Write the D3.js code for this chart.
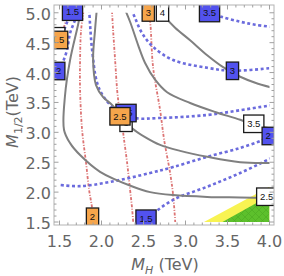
<!DOCTYPE html>
<html><head><meta charset="utf-8">
<script src="https://cdn.jsdelivr.net/npm/d3@7"></script>
<style>body{margin:0;background:#fff;overflow:hidden}</style>
</head><body>
<script>
// ---- data (M_H, M_1/2 in TeV) ----
const xTicks = [1.5, 2.0, 2.5, 3.0, 3.5, 4.0];
const yTicks = [1.5, 2.0, 2.5, 3.0, 3.5, 4.0, 4.5, 5.0];

// gray solid contours
const gray25 = [[1.76,5.08],[1.721,4.80],[1.626,4.21],[1.566,3.62],[1.554,3.04],[1.626,2.82],[1.745,2.62],[1.983,2.34],[2.376,2.09],[2.579,2.00],[2.853,1.95],[3.258,1.92],[3.651,1.91],[4.05,1.90]];
const gray3  = [[1.947,5.10],[1.923,4.71],[1.900,4.21],[1.935,3.79],[2.019,3.59],[2.126,3.46],[2.245,3.26],[2.364,3.07],[2.519,2.92],[2.698,2.79],[2.936,2.69],[3.258,2.59],[3.651,2.50],[4.05,2.49]];
const gray35 = [[2.25,5.15],[2.340,4.85],[2.436,4.46],[2.519,4.16],[2.638,3.88],[2.781,3.67],[3.055,3.49],[3.353,3.34],[3.651,3.21],[3.818,3.12],[4.05,3.06]];
const gray4  = [[2.726,5.0],[2.769,4.91],[2.876,4.75],[3.055,4.54],[3.258,4.29],[3.448,4.09],[3.651,3.93],[3.830,3.83],[4.05,3.74]];

// blue dotted contours
const blue35  = [[3.286,5.0],[3.436,4.93],[3.651,4.85],[3.83,4.80],[4.05,4.76]];
const blue3   = [[2.33,5.15],[2.400,4.91],[2.483,4.66],[2.614,4.43],[2.853,4.21],[3.258,4.08],[3.559,4.03],[4.05,4.08]];
const blue25  = [[1.85,5.15],[1.864,4.80],[1.888,4.38],[1.947,3.83],[2.019,3.61],[2.138,3.42],[2.292,3.32],[2.400,3.24],[2.698,3.24],[3.258,3.29],[3.651,3.37],[4.05,3.46]];
const blue2a  = [[1.74,5.15],[1.685,4.88],[1.626,4.66],[1.590,4.38],[1.542,4.18],[1.491,4.03]];
const blue15a = [[1.655,5.02],[1.602,4.88],[1.554,4.71],[1.506,4.54],[1.459,4.41]];
const blue2b  = [[1.45,2.13],[1.500,2.12],[1.745,2.10],[2.102,2.17],[2.579,2.32],[2.853,2.42],[3.258,2.59],[3.651,2.74],[3.913,2.87],[3.985,2.94]];
const blue15b = [[2.45,1.48],[2.53,1.555],[2.853,1.87],[3.258,2.09],[3.651,2.32],[4.05,2.59]];

// red dash-dotted contours
const red15 = [[1.61,5.15],[1.578,4.91],[1.542,4.71],[1.478,4.545]];
const red2  = [[1.80,5.15],[1.757,4.71],[1.745,4.21],[1.745,3.71],[1.769,3.04],[1.816,2.49],[1.852,2.04],[1.888,1.73],[1.90,1.45]];
const red25 = [[2.12,5.15],[2.138,4.71],[2.162,4.21],[2.186,3.71],[2.209,3.41],[2.220,3.27],[2.245,3.12],[2.269,2.87],[2.305,2.49],[2.340,2.04],[2.364,1.73],[2.38,1.45]];
const red3  = [[2.557,5.0],[2.579,4.85],[2.614,4.09],[2.698,3.37],[2.746,2.87],[2.817,2.32],[2.853,1.95],[2.88,1.45]];

// excluded regions
const yellowRegion = [[3.22,1.5],[4.0,2.09],[4.0,1.5]];
const greenRegion  = [[3.44,1.5],[4.0,1.94],[4.0,1.5]];

// contour labels [x, y, text]
const grayLabels   = [[1.491,4.607,"2"],[2.292,3.16,"3"],[2.726,5.005,"4"],[3.813,3.143,"3.5"],[3.967,1.923,"2.5"]];
const blueLabels   = [[1.655,5.018,"1.5"],[1.491,4.026,"2"],[2.292,3.323,"2.5"],[3.559,4.029,"3"],[3.286,4.996,"3.5"],[3.985,2.939,"2"],[2.53,1.555,"1.5"]];
const orangeLabels = [[1.478,4.545,"1.5"],[1.893,1.588,"2"],[2.220,3.268,"2.5"],[2.557,5.005,"3"]];

// ---- drawing ----
const W = 284, H = 276;
const fL = 54, fR = 274, fT = 5, fB = 225;
const x = d3.scaleLinear().domain([1.4345, 4.0536]).range([fL, fR]);
const y = d3.scaleLinear().domain([1.45, 5.13]).range([fB, fT]);

const svg = d3.select("body").append("svg").attr("width", W).attr("height", H)
  .style("font-family", "'DejaVu Sans', sans-serif");
const defs = svg.append("defs");
defs.append("clipPath").attr("id", "dataClip").append("rect")
  .attr("x", x(1.5)).attr("y", y(5.0)).attr("width", x(4.0) - x(1.5)).attr("height", y(1.5) - y(5.0));
defs.append("clipPath").attr("id", "frameClip").append("rect")
  .attr("x", fL).attr("y", fT).attr("width", fR - fL).attr("height", fB - fT);
const pat = defs.append("pattern").attr("id", "hatch").attr("patternUnits", "userSpaceOnUse")
  .attr("width", 7).attr("height", 7);
pat.append("rect").attr("width", 7).attr("height", 7).attr("fill", "#5dc02c");
pat.append("path").attr("d", "M0,0L7,7M7,0L0,7").attr("stroke", "#4fae24").attr("stroke-width", 0.7);

const plot = svg.append("g").attr("clip-path", "url(#dataClip)");
const area = d3.line().x(d => x(d[0])).y(d => y(d[1]));
plot.append("path").attr("d", area(yellowRegion) + "Z").attr("fill", "#f8f352");
plot.append("path").attr("d", area(greenRegion) + "Z").attr("fill", "url(#hatch)");

const curve = d3.line().x(d => x(d[0])).y(d => y(d[1])).curve(d3.curveCatmullRom.alpha(0.5));

[red15, red2, red25, red3].forEach(pts => plot.append("path").attr("d", curve(pts))
  .attr("fill", "none").attr("stroke", "#dc7373").attr("stroke-width", 1.8)
  .attr("stroke-dasharray", "3,1.6,1,1.6"));
[blue35, blue3, blue25, blue2a, blue15a, blue2b, blue15b].forEach(pts => plot.append("path").attr("d", curve(pts))
  .attr("fill", "none").attr("stroke", "#6b6bdd").attr("stroke-width", 2.6)
  .attr("stroke-dasharray", "3,2.6"));
[gray25, gray3, gray35, gray4].forEach(pts => plot.append("path").attr("d", curve(pts))
  .attr("fill", "none").attr("stroke", "#808080").attr("stroke-width", 2));

// labels
const lab = svg.append("g").attr("clip-path", "url(#frameClip)");
function drawLabels(list, fill) {
  list.forEach(([lx, ly, t]) => {
    const g = lab.append("g").attr("transform", `translate(${x(lx)},${y(ly)})`);
    const r = g.append("rect");
    const tx = g.append("text").text(t).attr("text-anchor", "middle").attr("dy", "0.35em")
      .attr("font-family", "'Liberation Sans', Arial, sans-serif").attr("font-size", 9.5).attr("fill", "#111");
    const w = tx.node().getComputedTextLength() + 7, h = 17.5;
    r.attr("x", -w / 2).attr("y", -h / 2).attr("width", w).attr("height", h)
      .attr("fill", fill).attr("stroke", "#1a1a1a").attr("stroke-width", 1.3);
  });
}
drawLabels(grayLabels, "#ffffff");
drawLabels(blueLabels, "#5252ee");
drawLabels(orangeLabels, "#f6a54b");

// frame & ticks
const ax = svg.append("g");
ax.append("rect").attr("x", fL).attr("y", fT).attr("width", fR - fL).attr("height", fB - fT)
  .attr("fill", "none").attr("stroke", "#b4b4b4").attr("stroke-width", 1);
const minorX = d3.range(15, 41).map(v => v / 10);
const minorY = d3.range(15, 51).map(v => v / 10);
minorX.forEach(v => {
  const major = xTicks.some(t => Math.abs(t - v) < 1e-6);
  const L = major ? 4.5 : 2.5;
  ax.append("line").attr("x1", x(v)).attr("x2", x(v)).attr("y1", fB).attr("y2", fB - L).attr("stroke", "#a0a0a0");
  ax.append("line").attr("x1", x(v)).attr("x2", x(v)).attr("y1", fT).attr("y2", fT + L).attr("stroke", "#a0a0a0");
});
minorY.forEach(v => {
  const major = yTicks.some(t => Math.abs(t - v) < 1e-6);
  const L = major ? 4.5 : 2.5;
  ax.append("line").attr("y1", y(v)).attr("y2", y(v)).attr("x1", fL).attr("x2", fL + L).attr("stroke", "#a0a0a0");
  ax.append("line").attr("y1", y(v)).attr("y2", y(v)).attr("x1", fR).attr("x2", fR - L).attr("stroke", "#a0a0a0");
});
xTicks.forEach(t => ax.append("text").attr("x", x(t)).attr("y", 247).attr("text-anchor", "middle")
  .attr("font-size", 16).attr("fill", "#666").text(t.toFixed(1)));
yTicks.forEach(t => ax.append("text").attr("x", fL - 3).attr("y", y(t) + 7).attr("text-anchor", "end")
  .attr("font-size", 16).attr("fill", "#666").text(t.toFixed(1)));

// axis titles
const xt = ax.append("text").attr("x", 165).attr("y", 270).attr("text-anchor", "middle")
  .attr("font-size", 16).attr("fill", "#666");
xt.append("tspan").attr("font-style", "italic").text("M");
xt.append("tspan").attr("font-style", "italic").attr("font-size", 11).attr("dy", 4).text("H");
xt.append("tspan").attr("dy", -4).text(" (TeV)");

const yt = ax.append("text").attr("transform", "translate(18,112) rotate(-90)").attr("text-anchor", "middle")
  .attr("font-size", 16).attr("fill", "#666");
yt.append("tspan").attr("font-style", "italic").text("M");
yt.append("tspan").attr("font-size", 11).attr("dy", 4).text("1/2");
yt.append("tspan").attr("dy", -4).text("(TeV)");
</script>
</body></html>
